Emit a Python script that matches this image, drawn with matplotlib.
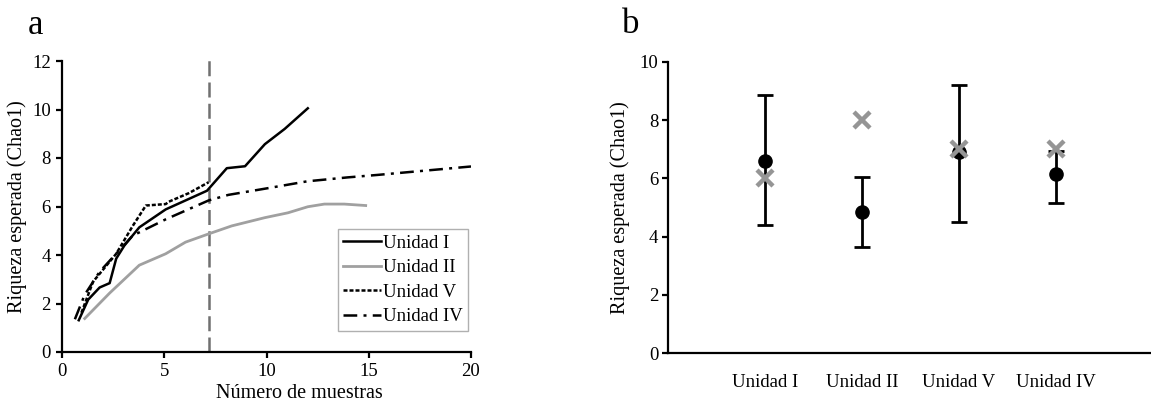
import matplotlib
matplotlib.use("Agg")
import matplotlib.pyplot as plt

plt.rcParams['font.family'] = ['Liberation Serif', 'DejaVu Serif']

# ---- panel a data (rarefaction curves) ----
u1_x = [0.82, 1.28, 1.84, 2.33, 2.65, 3.05, 3.78, 5.07, 7.09, 8.06, 8.95, 9.92, 10.89, 12.02]
u1_y = [1.31, 2.16, 2.66, 2.84, 3.85, 4.39, 5.14, 5.88, 6.65, 7.58, 7.66, 8.57, 9.2, 10.05]

u2_x = [1.11, 2.33, 3.78, 5.07, 6.04, 7.17, 8.30, 9.92, 11.05, 12.02, 12.83, 13.8, 14.85]
u2_y = [1.38, 2.43, 3.58, 4.05, 4.53, 4.87, 5.2, 5.54, 5.74, 5.99, 6.1, 6.1, 6.04]

u5_x = [0.95, 1.52, 2.65, 3.46, 4.1, 5.07, 5.23, 6.2, 7.17]
u5_y = [1.62, 2.9, 4.05, 5.2, 6.04, 6.1, 6.2, 6.55, 7.0]

u4_x = [0.63, 1.11, 1.84, 3.46, 5.07, 7.17, 8.14, 10.1, 12.0, 13.96, 15.4, 20.0]
u4_y = [1.35, 2.36, 3.31, 4.8, 5.47, 6.25, 6.48, 6.76, 7.04, 7.2, 7.3, 7.65]

cutoff_x = 7.17
a_xticks = [0, 5, 10, 15, 20]
a_yticks = [0, 2, 4, 6, 8, 10, 12]

# ---- panel b data ----
units = ['Unidad I', 'Unidad II', 'Unidad V', 'Unidad IV']
chao_mean = [6.6, 4.85, 6.9, 6.15]
chao_upper = [8.85, 6.05, 9.2, 6.95]
chao_lower = [4.4, 3.65, 4.5, 5.15]
observed = [6, 8, 7, 7]
b_yticks = [0, 2, 4, 6, 8, 10]

W, H = 1151, 403
fig = plt.figure(figsize=(W / 100, H / 100), dpi=100)

TICK_FS = 13.5
LAB_FS = 14.5

# ---------------- panel a ----------------
axa = fig.add_axes([62 / W, 1 - 352 / H, (471 - 62) / W, (352 - 61) / H])
axa.plot(u1_x, u1_y, color='black', lw=1.8, label='Unidad I')
axa.plot(u2_x, u2_y, color='#a0a0a0', lw=2.0, label='Unidad II')
axa.plot(u5_x, u5_y, color='black', lw=1.8, dashes=(1.6, 0.8), label='Unidad V')
axa.plot(u4_x, u4_y, color='black', lw=1.8, dashes=(5.5, 2.5, 1.2, 2.5), label='Unidad IV')
axa.plot([cutoff_x, cutoff_x], [0, 12.25], color='#707070', lw=1.8,
         dashes=(6, 2.5), clip_on=False, zorder=1)
axa.set_xlim(0, 20)
axa.set_ylim(0, 12)
axa.set_xticks(a_xticks)
axa.set_yticks(a_yticks)
for s in ['top', 'right']:
    axa.spines[s].set_visible(False)
for s in ['left', 'bottom']:
    axa.spines[s].set_linewidth(1.6)
axa.tick_params(direction='out', length=4, width=1.6, labelsize=TICK_FS, pad=4)
axa.set_xlabel('Número de muestras', fontsize=LAB_FS, labelpad=3)
axa.xaxis.set_label_coords(0.58, -0.11)
axa.set_ylabel('Riqueza esperada (Chao1)', fontsize=LAB_FS, labelpad=4)
leg = axa.legend(loc='lower right', bbox_to_anchor=(0.993, 0.072), fontsize=TICK_FS,
                 frameon=True, fancybox=False, edgecolor='#b0b0b0', framealpha=1,
                 handlelength=2.0, handletextpad=0.1, labelspacing=0.4,
                 borderpad=0.3, borderaxespad=0)
leg.get_frame().set_linewidth(1.0)

# ---------------- panel b ----------------
axb = fig.add_axes([668 / W, 1 - 353 / H, (1151 - 668) / W, (353 - 62) / H])
pos = [1, 2, 3, 4]
yerr = [[m - lo for m, lo in zip(chao_mean, chao_lower)],
        [up - m for m, up in zip(chao_mean, chao_upper)]]
axb.errorbar(pos, chao_mean, yerr=yerr, fmt='o', color='black', ms=9.5,
             ecolor='black', elinewidth=2, capsize=6, capthick=2, zorder=2)
axb.plot(pos, observed, 'x', color='#959595', ms=12, mew=3.2, zorder=3)
axb.set_xlim(0, 4.98)
axb.set_ylim(0, 10)
axb.set_xticks(pos)
axb.set_xticklabels(units)
axb.set_yticks(b_yticks)
for s in ['top', 'right']:
    axb.spines[s].set_visible(False)
for s in ['left', 'bottom']:
    axb.spines[s].set_linewidth(1.6)
axb.tick_params(axis='y', direction='out', length=4, width=1.6, labelsize=TICK_FS, pad=3)
axb.tick_params(axis='x', length=0, labelsize=TICK_FS, pad=15)
axb.set_ylabel('Riqueza esperada (Chao1)', fontsize=LAB_FS, labelpad=7)

# panel letters
fig.text(28 / W, 1 - 34 / H, 'a', fontsize=25, ha='left', va='baseline')
fig.text(622 / W, 1 - 33 / H, 'b', fontsize=25, ha='left', va='baseline')

fig.savefig('out.png', dpi=100)
